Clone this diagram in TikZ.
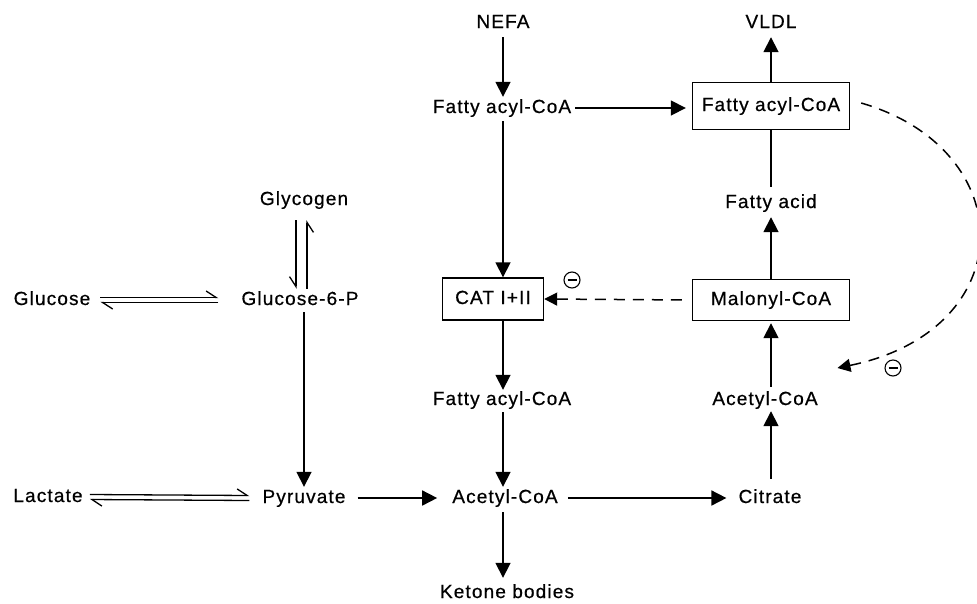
\documentclass[tikz,border=0pt]{standalone}
\usepackage{fontspec}
\setmainfont{Liberation Sans}[LetterSpace=6,FakeBold=0.6]
\usetikzlibrary{arrows.meta,calc}
\begin{document}
\begin{tikzpicture}[x=1pt,y=-1pt,
  every node/.style={font=\fontsize{19}{22}\selectfont, text height=14pt, text depth=4pt, inner sep=2pt},
  bx/.style={draw, line width=1.4pt, minimum height=42pt},
  arr/.style={line width=1.7pt, -{Triangle[length=15pt,width=15pt]}},
  ln/.style={line width=1.7pt},
  harp/.style={line width=1.3pt, -{Straight Barb[harpoon,length=10pt,width=13pt]}},
  harpsw/.style={line width=1.3pt, -{Straight Barb[harpoon,swap,length=10pt,width=13pt]}},
  dsh/.style={line width=1.5pt, dash pattern=on 11pt off 8pt, -{Triangle[length=13pt,width=13pt]}},
  inh/.style={draw, circle, line width=1.1pt, minimum size=16pt, inner sep=0pt, text height=0pt, text depth=0pt,
    path picture={\draw[line width=1.1pt] ([xshift=-4.5pt]path picture bounding box.center) -- ([xshift=4.5pt]path picture bounding box.center);}}
]
\useasboundingbox (0,0) rectangle (977,603);

% middle column
\node (nefa) at (503,23) {NEFA};
\node (fa1) at (502,108) {Fatty acyl-CoA};
\node[bx, minimum width=101pt] (cat) at (493,299) {CAT I+II};
\node (fa2) at (502,400) {Fatty acyl-CoA};
\node (acoa) at (505,498) {Acetyl-CoA};
\node (ketone) at (507,593) {Ketone bodies};

% right column
\node (vldl) at (771,23) {VLDL};
\node[bx, minimum width=157pt, minimum height=47pt] (fabox) at (771,106) {Fatty acyl-CoA};
\node (facid) at (771,203) {Fatty acid};
\node[bx, minimum width=157pt, minimum height=41pt] (malonyl) at (771,300) {Malonyl-CoA};
\node (acoa2) at (765,400) {Acetyl-CoA};
\node (citrate) at (770,498) {Citrate};

% left side
\node (glycogen) at (304,200) {Glycogen};
\node (glucose) at (52,300) {Glucose};
\node (g6p) at (300,300) {Glucose-6-P};
\node (lactate) at (48,497) {Lactate};
\node (pyruvate) at (304,498) {Pyruvate};

% inhibition marks
\node[inh] (m1) at (572,280) {};
\node[inh] (m2) at (893,368) {};

% middle column arrows
\draw[arr, shorten <=3pt] (nefa.south -| 503,0) -- (fa1.north -| 503,0);
\draw[arr, shorten <=2pt] (fa1.south -| 503,0) -- (cat.north -| 503,0);
\draw[arr] (cat.south -| 503,0) -- ([yshift=-1pt]fa2.north -| 503,0);
\draw[arr, shorten <=1pt] (fa2.south -| 503,0) -- (acoa.north -| 503,0);
\draw[arr, shorten <=3pt, shorten >=4pt] (acoa.south -| 503,0) -- (ketone.north -| 503,0);

% horizontal arrows
\draw[arr, shorten <=2pt, shorten >=6pt] (fa1.east) -- (fabox.west |- fa1.east);
\draw[arr, shorten <=10pt, shorten >=13pt] (pyruvate.east) -- (acoa.west |- pyruvate.east);
\draw[arr, shorten <=8pt, shorten >=10pt] (acoa.east) -- (citrate.west |- acoa.east);

% right column arrows
\draw[arr, shorten >=3pt] (fabox.north) -- (vldl.south -| fabox.north);
\draw[ln, shorten >=5pt] (fabox.south) -- (facid.north);
\draw[arr, shorten >=3pt] (malonyl.north) -- (facid.south);
\draw[arr, shorten <=2pt, shorten >=2pt] (acoa2.north -| 771,0) -- (malonyl.south);
\draw[arr, shorten <=8pt] (citrate.north -| 771,0) -- (acoa2.south -| 771,0);

% dashed inhibitions
\draw[dsh, shorten <=10pt] (malonyl.west) -- (cat.east);
\draw[dsh] ($(fabox.east)+(11,-3)$) .. controls (1022,150) and (1022,330) .. ($(m2.west)+(-47,0)$);

% reversible harpoons
\draw[harp] ($(glucose.east)+(8,-2.5)$) -- ($(g6p.west)+(-21,-2.5)$);
\draw[harp] ($(g6p.west)+(-21,2.5)$) -- ($(glucose.east)+(8,2.5)$);
\draw[harp] ($(lactate.east)+(5,-2.5)$) -- ($(pyruvate.west)+(-11,-2.5)$);
\draw[harp] ($(pyruvate.west)+(-11,2.5)$) -- ($(lactate.east)+(5,2.5)$);
\draw[harpsw] ($(glycogen.south)+(-8,9)$) -- ($(g6p.north)+(-4,0)$);
\draw[harpsw] ($(g6p.north)+(7,0)$) -- ($(glycogen.south)+(3,9)$);

% glycolysis
\draw[arr, shorten <=1pt] (g6p.south -| 304,0) -- (pyruvate.north);
\end{tikzpicture}
\end{document}
